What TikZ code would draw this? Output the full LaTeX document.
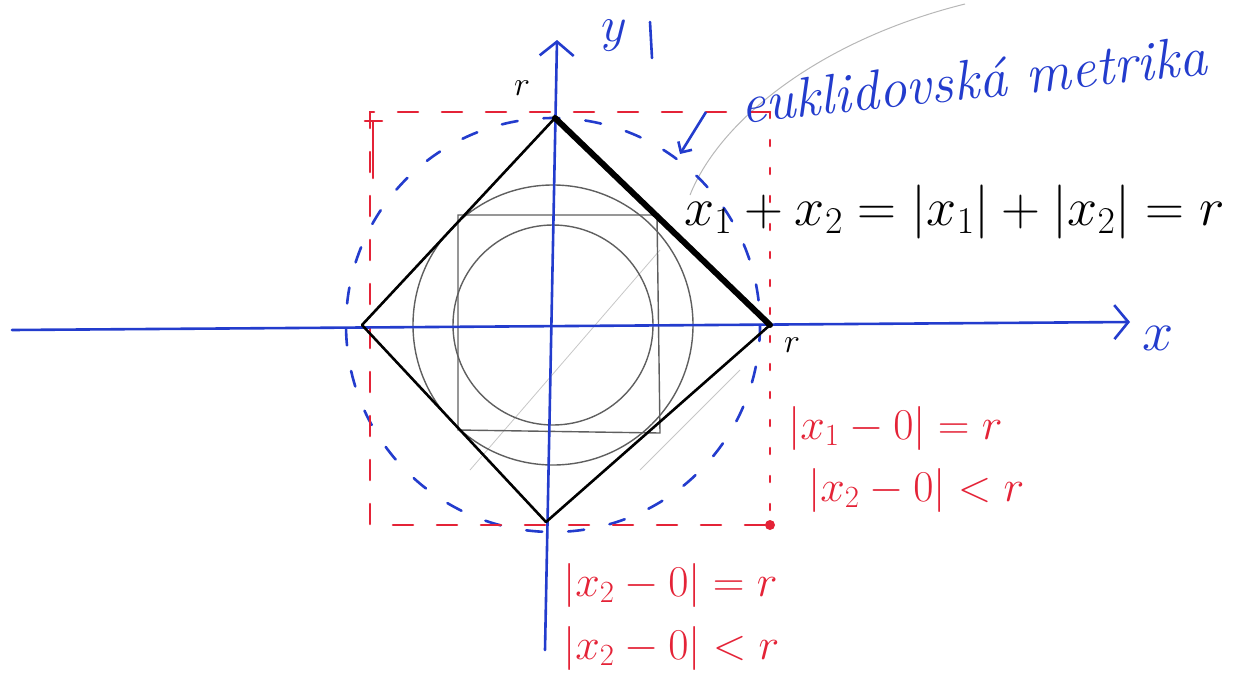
\RequirePackage{fix-cm}
\documentclass[tikz,border=0pt]{standalone}
\usepackage{fontspec}
\usetikzlibrary{arrows.meta}
\definecolor{pen}{RGB}{35,60,205}
\definecolor{redpen}{RGB}{228,35,55}
\definecolor{pencil}{RGB}{95,95,95}
\tikzset{
  axis/.style={draw=pen, line width=2.6pt, line cap=round},
  axistip/.style={-{Straight Barb[length=14pt,width=34pt,line width=2.6pt]}},
  rhomb/.style={draw=black, line width=2.6pt, line join=round},
  redbox/.style={draw=redpen, line width=2.6pt, dash pattern=on 20pt off 24pt, line cap=round},
  reddot/.style={draw=redpen, line width=2.6pt, dash pattern=on 6pt off 22pt, line cap=round},
  bluedash/.style={draw=pen, line width=2.6pt, dash pattern=on 16pt off 26pt, line cap=round},
  graypen/.style={draw=pencil, line width=1.4pt},
  blacktxt/.style={text=black, font=\fontsize{54}{60}\selectfont, inner sep=0pt},
  redtxt/.style={text=redpen, font=\fontsize{44}{50}\selectfont, inner sep=0pt},
  bluetxt/.style={text=pen, font=\fontsize{56}{62}\selectfont\itshape, inner sep=0pt},
  smalltxt/.style={text=black, font=\fontsize{34}{40}\selectfont, inner sep=0pt}
}
\begin{document}
\begin{tikzpicture}[x=1pt,y=-1pt]
\useasboundingbox (0,0) rectangle (1247,675);
% key points
\coordinate (O) at (553,325);
\coordinate (T) at (555,118);
\coordinate (R) at (770,325);
\coordinate (B) at (546,522);
\coordinate (L) at (362,325);
\coordinate (xs) at (12,330);
\coordinate (xe) at (1130,322);
\coordinate (ys) at (545,650);
\coordinate (ye) at (557,40);
\coordinate (bTL) at (370,112);
\coordinate (bTR) at (770,112);
\coordinate (bBR) at (770,525);
\coordinate (bBL) at (370,525);
% faint pencil guide
\draw[draw=pencil!45, line width=1pt] (965,4) .. controls (820,40) and (720,120) .. (690,195);
\draw[draw=pencil!35, line width=0.8pt] (470,470) -- (660,250);
\draw[draw=pencil!35, line width=0.8pt] (640,470) -- (740,370);
% gray circles and square
\draw[graypen] (O) circle[radius=140];
\draw[graypen] (O) circle[radius=100];
\draw[graypen] (458,215) -- (657,215) -- (660,433) -- (458,430) -- cycle;
% blue dashed circle
\draw[bluedash] (O) circle[radius=207];
% red box
\draw[redbox] (bTR) -- (bTL) -- (bBL) -- (bBR);
\draw[reddot] (bTR) -- (bBR);
\fill[redpen] (bBR) circle[radius=5];
\draw[draw=redpen, line width=2.6pt, line cap=round] (373,122) -- (373,178);
\draw[draw=redpen, line width=2.6pt, line cap=round] (365,121) -- (382,121);
% axes
\draw[axis, axistip] (xs) -- (xe);
\draw[axis, axistip] (ys) -- (ye);
% diamond
\draw[rhomb] (T) -- (R) -- (B) -- (L) -- cycle;
\draw[draw=black, line width=6pt, line cap=round] (T) -- (R);
% axis labels
\node[text=pen, font=\fontsize{56}{60}\selectfont, inner sep=0pt] (xl) at (1158,338) {$x$};
\node[text=pen, font=\fontsize{50}{56}\selectfont, inner sep=0pt] (yl) at (614,36) {$y$};
\draw[draw=pen, line width=2.6pt, line cap=round] (650,22) -- (652,58);
\node[smalltxt] (rt) at (522,88) {$r$};
\node[smalltxt] (rr) at (792,345) {$r$};
% labels
\node[blacktxt, anchor=west] (eq) at (684,212) {$x_1+x_2=|x_1|+|x_2|=r$};
\node[redtxt, anchor=west] (e1) at (788,428) {$|x_1-0|=r$};
\node[redtxt, anchor=west] (e2) at (808,490) {$|x_2-0|<r$};
\node[redtxt, anchor=west] (e3) at (563,585) {$|x_2-0|=r$};
\node[redtxt, anchor=west] (e4) at (563,648) {$|x_2-0|<r$};
\node[bluetxt, anchor=west, rotate=6] (eu) at (740,104) {euklidovská metrika};
\coordinate (arrS) at (706,112);
\coordinate (arrE) at (680,154);
\draw[draw=pen, line width=2.6pt, -{Straight Barb[length=8pt,width=16pt,line width=2.6pt]}] (arrS) -- (arrE);
\end{tikzpicture}
\end{document}
